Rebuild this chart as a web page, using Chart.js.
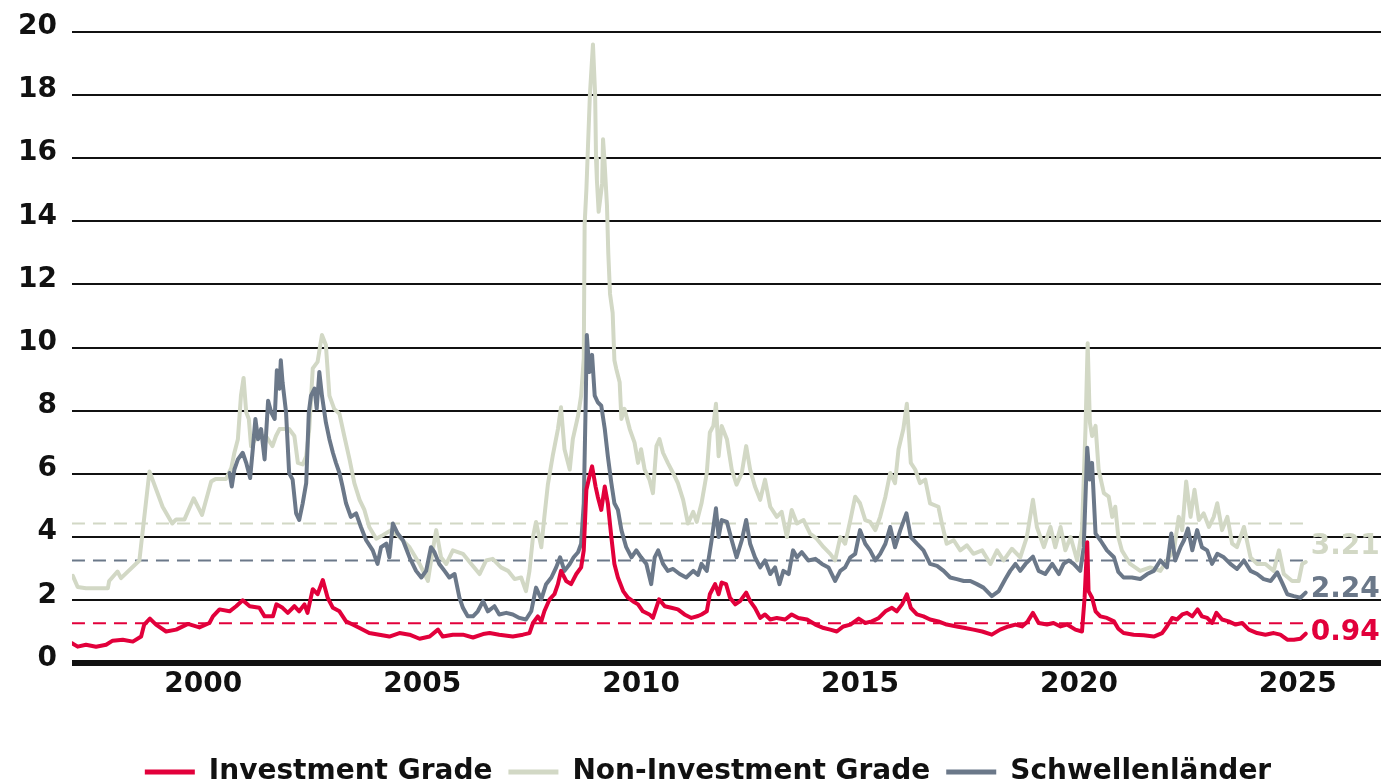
<!DOCTYPE html>
<html lang="de">
<head>
<meta charset="utf-8">
<title>Risikoaufschläge</title>
<script src="https://cdn.jsdelivr.net/npm/chart.js@4.4.1/dist/chart.umd.min.js"></script>
<style>
    html, body { margin: 0; padding: 0; background: #fff; overflow: hidden; }
    .chart-wrap { position: relative; width: 1381px; height: 796px; }
</style>
</head>
<body>
<div class="chart-wrap"><canvas id="spreadChart"></canvas></div>
<script>
/* ============================================
   Spreads — IG, High Yield, Schwellenländer
   ============================================ */

const seriesNames = ['Investment Grade', 'Non-Investment Grade', 'Schwellenländer'];
const xTicks = [2000, 2005, 2010, 2015, 2020, 2025];
const yTicks = [0, 2, 4, 6, 8, 10, 12, 14, 16, 18, 20];

// [year, spread in %]
const igSeries = [
    [1997.00, 0.64], [1997.13, 0.53], [1997.32, 0.59], [1997.55, 0.53], [1997.78, 0.59], [1997.93, 0.72],
    [1998.16, 0.75], [1998.39, 0.69], [1998.58, 0.85], [1998.65, 1.23], [1998.78, 1.42], [1998.92, 1.23],
    [1999.15, 1.01], [1999.38, 1.07], [1999.65, 1.25], [1999.91, 1.14], [2000.14, 1.28], [2000.22, 1.49],
    [2000.37, 1.71], [2000.60, 1.65], [2000.75, 1.81], [2000.90, 2.00], [2001.06, 1.81], [2001.28, 1.76],
    [2001.40, 1.49], [2001.59, 1.49], [2001.67, 1.87], [2001.81, 1.76], [2001.93, 1.60], [2002.08, 1.81],
    [2002.19, 1.65], [2002.31, 1.87], [2002.38, 1.60], [2002.50, 2.35], [2002.61, 2.19], [2002.73, 2.64],
    [2002.84, 2.08], [2002.96, 1.76], [2003.11, 1.65], [2003.26, 1.33], [2003.41, 1.23], [2003.57, 1.12],
    [2003.79, 0.96], [2004.02, 0.91], [2004.25, 0.85], [2004.48, 0.96], [2004.71, 0.91], [2004.94, 0.78],
    [2005.17, 0.85], [2005.36, 1.07], [2005.47, 0.85], [2005.70, 0.91], [2005.93, 0.91], [2006.16, 0.82],
    [2006.39, 0.93], [2006.54, 0.96], [2006.76, 0.91], [2007.07, 0.85], [2007.30, 0.91], [2007.45, 0.96],
    [2007.53, 1.28], [2007.64, 1.49], [2007.72, 1.33], [2007.79, 1.65], [2007.91, 2.03], [2008.02, 2.19],
    [2008.10, 2.51], [2008.17, 2.93], [2008.29, 2.61], [2008.40, 2.51], [2008.52, 2.83], [2008.63, 3.04],
    [2008.69, 3.58], [2008.75, 5.50], [2008.82, 5.92], [2008.88, 6.24], [2008.96, 5.60], [2009.01, 5.28],
    [2009.09, 4.86], [2009.17, 5.60], [2009.24, 5.07], [2009.32, 4.00], [2009.39, 3.15], [2009.47, 2.72],
    [2009.59, 2.29], [2009.70, 2.08], [2009.81, 1.97], [2009.93, 1.87], [2010.04, 1.65], [2010.19, 1.55],
    [2010.27, 1.44], [2010.41, 2.03], [2010.54, 1.81], [2010.69, 1.76], [2010.84, 1.71], [2010.99, 1.55],
    [2011.15, 1.44], [2011.30, 1.50], [2011.38, 1.55], [2011.50, 1.65], [2011.57, 2.19], [2011.69, 2.51],
    [2011.77, 2.19], [2011.84, 2.56], [2011.94, 2.51], [2012.03, 2.08], [2012.15, 1.87], [2012.26, 1.97],
    [2012.40, 2.24], [2012.49, 1.97], [2012.60, 1.76], [2012.72, 1.44], [2012.83, 1.55], [2012.95, 1.39],
    [2013.10, 1.44], [2013.29, 1.39], [2013.44, 1.55], [2013.59, 1.44], [2013.79, 1.39], [2013.98, 1.23],
    [2014.17, 1.12], [2014.32, 1.07], [2014.47, 1.01], [2014.62, 1.17], [2014.78, 1.23], [2014.97, 1.42],
    [2015.12, 1.28], [2015.27, 1.33], [2015.43, 1.44], [2015.58, 1.65], [2015.73, 1.76], [2015.84, 1.65],
    [2015.96, 1.87], [2016.07, 2.19], [2016.16, 1.76], [2016.30, 1.55], [2016.45, 1.49], [2016.60, 1.39],
    [2016.79, 1.33], [2016.98, 1.23], [2017.21, 1.17], [2017.40, 1.12], [2017.59, 1.07], [2017.79, 1.01],
    [2018.01, 0.91], [2018.20, 1.07], [2018.39, 1.17], [2018.55, 1.23], [2018.70, 1.17], [2018.83, 1.33],
    [2018.95, 1.60], [2019.08, 1.28], [2019.27, 1.23], [2019.42, 1.28], [2019.58, 1.17], [2019.73, 1.23],
    [2019.92, 1.07], [2020.07, 1.01], [2020.13, 2.08], [2020.19, 3.84], [2020.22, 2.29], [2020.30, 2.08],
    [2020.38, 1.65], [2020.49, 1.49], [2020.64, 1.44], [2020.80, 1.33], [2020.90, 1.10], [2021.02, 0.96],
    [2021.25, 0.91], [2021.48, 0.89], [2021.71, 0.85], [2021.90, 0.96], [2022.01, 1.17], [2022.13, 1.44],
    [2022.24, 1.39], [2022.36, 1.55], [2022.47, 1.60], [2022.59, 1.49], [2022.71, 1.71], [2022.81, 1.49],
    [2022.93, 1.44], [2023.04, 1.28], [2023.14, 1.60], [2023.27, 1.39], [2023.42, 1.33], [2023.58, 1.23],
    [2023.73, 1.28], [2023.88, 1.07], [2024.07, 0.96], [2024.26, 0.91], [2024.45, 0.96], [2024.60, 0.91],
    [2024.76, 0.75], [2024.91, 0.75], [2025.06, 0.78], [2025.18, 0.94]
];

const hySeries = [
    [1997.02, 2.77], [1997.13, 2.42], [1997.32, 2.38], [1997.82, 2.38], [1997.85, 2.61], [1998.04, 2.91],
    [1998.12, 2.70], [1998.54, 3.26], [1998.77, 6.08], [1999.07, 4.96], [1999.29, 4.43], [1999.38, 4.56],
    [1999.57, 4.56], [1999.78, 5.23], [1999.97, 4.70], [2000.18, 5.76], [2000.28, 5.84], [2000.52, 5.84],
    [2000.64, 6.19], [2000.71, 6.67], [2000.79, 7.10], [2000.86, 8.48], [2000.92, 9.04], [2000.98, 7.95],
    [2001.04, 7.74], [2001.09, 6.88], [2001.24, 7.20], [2001.43, 7.20], [2001.58, 6.88], [2001.66, 7.20],
    [2001.74, 7.42], [2001.96, 7.42], [2002.08, 7.20], [2002.16, 6.35], [2002.27, 6.30], [2002.35, 6.56],
    [2002.42, 7.42], [2002.50, 9.34], [2002.61, 9.55], [2002.71, 10.40], [2002.80, 10.08], [2002.88, 8.48],
    [2002.99, 8.06], [2003.11, 7.90], [2003.22, 7.20], [2003.34, 6.46], [2003.45, 5.71], [2003.57, 5.18],
    [2003.68, 4.86], [2003.79, 4.32], [2003.95, 3.95], [2004.10, 4.06], [2004.29, 4.22], [2004.48, 4.00],
    [2004.71, 3.68], [2004.94, 3.15], [2005.13, 2.61], [2005.24, 3.58], [2005.32, 4.22], [2005.43, 3.36],
    [2005.55, 3.15], [2005.70, 3.58], [2005.93, 3.47], [2006.12, 3.15], [2006.31, 2.83], [2006.46, 3.26],
    [2006.61, 3.31], [2006.80, 3.04], [2006.96, 2.93], [2007.11, 2.67], [2007.26, 2.72], [2007.37, 2.29],
    [2007.45, 2.93], [2007.53, 4.00], [2007.60, 4.48], [2007.72, 3.68], [2007.79, 4.64], [2007.87, 5.66],
    [2007.98, 6.56], [2008.10, 7.42], [2008.17, 8.11], [2008.25, 6.78], [2008.37, 6.14], [2008.44, 7.10],
    [2008.56, 7.84], [2008.63, 8.48], [2008.69, 9.66], [2008.71, 13.90], [2008.75, 15.00], [2008.83, 18.00],
    [2008.90, 19.60], [2008.95, 18.00], [2008.97, 16.00], [2008.99, 15.30], [2009.03, 14.30], [2009.11, 15.20],
    [2009.13, 16.60], [2009.16, 16.00], [2009.22, 14.50], [2009.25, 13.00], [2009.29, 11.70], [2009.35, 11.10],
    [2009.39, 9.60], [2009.43, 9.34], [2009.51, 8.90], [2009.55, 7.74], [2009.62, 8.06], [2009.74, 7.42],
    [2009.85, 6.99], [2009.93, 6.35], [2010.00, 6.78], [2010.08, 6.14], [2010.19, 5.82], [2010.27, 5.39],
    [2010.35, 6.88], [2010.42, 7.10], [2010.50, 6.67], [2010.61, 6.35], [2010.73, 6.03], [2010.84, 5.71],
    [2010.96, 5.18], [2011.07, 4.43], [2011.19, 4.80], [2011.27, 4.48], [2011.38, 5.07], [2011.50, 6.03],
    [2011.57, 7.31], [2011.65, 7.52], [2011.71, 8.22], [2011.77, 6.56], [2011.84, 7.52], [2011.96, 7.10],
    [2012.07, 6.14], [2012.18, 5.66], [2012.30, 6.03], [2012.40, 6.88], [2012.49, 6.14], [2012.60, 5.60],
    [2012.72, 5.18], [2012.83, 5.82], [2012.95, 4.96], [2013.10, 4.64], [2013.21, 4.80], [2013.33, 4.00],
    [2013.44, 4.86], [2013.56, 4.43], [2013.71, 4.54], [2013.86, 4.11], [2014.01, 3.95], [2014.17, 3.68],
    [2014.32, 3.47], [2014.43, 3.26], [2014.55, 4.00], [2014.66, 3.79], [2014.78, 4.54], [2014.89, 5.28],
    [2015.00, 5.07], [2015.12, 4.54], [2015.23, 4.48], [2015.35, 4.22], [2015.46, 4.64], [2015.58, 5.28],
    [2015.69, 6.03], [2015.80, 5.71], [2015.88, 6.78], [2015.99, 7.42], [2016.07, 8.22], [2016.16, 6.35],
    [2016.26, 6.14], [2016.37, 5.71], [2016.49, 5.82], [2016.60, 5.07], [2016.79, 4.96], [2016.87, 4.43],
    [2016.98, 3.79], [2017.14, 3.90], [2017.29, 3.58], [2017.44, 3.74], [2017.59, 3.47], [2017.79, 3.58],
    [2017.98, 3.15], [2018.13, 3.58], [2018.28, 3.26], [2018.47, 3.63], [2018.66, 3.36], [2018.81, 4.00],
    [2018.95, 5.18], [2019.04, 4.32], [2019.20, 3.68], [2019.35, 4.32], [2019.46, 3.68], [2019.58, 4.32],
    [2019.69, 3.58], [2019.81, 4.00], [2019.96, 3.26], [2020.07, 4.22], [2020.15, 7.42], [2020.20, 10.14],
    [2020.25, 7.63], [2020.30, 7.20], [2020.38, 7.52], [2020.45, 6.14], [2020.57, 5.39], [2020.68, 5.28],
    [2020.76, 4.64], [2020.83, 4.96], [2020.90, 4.00], [2020.98, 3.58], [2021.17, 3.15], [2021.40, 2.93],
    [2021.63, 3.04], [2021.86, 2.93], [2022.01, 3.26], [2022.17, 3.58], [2022.28, 4.64], [2022.36, 4.22],
    [2022.45, 5.76], [2022.55, 4.64], [2022.64, 5.50], [2022.74, 4.54], [2022.85, 4.75], [2022.97, 4.32],
    [2023.08, 4.64], [2023.16, 5.07], [2023.27, 4.22], [2023.39, 4.64], [2023.50, 3.79], [2023.61, 3.68],
    [2023.77, 4.32], [2023.92, 3.36], [2024.07, 3.15], [2024.26, 3.15], [2024.45, 2.93], [2024.57, 3.58],
    [2024.68, 2.83], [2024.87, 2.61], [2025.02, 2.61], [2025.10, 3.15], [2025.18, 3.21]
];

const emSeries = [
    [2000.60, 6.03], [2000.65, 5.60], [2000.71, 6.14], [2000.79, 6.46], [2000.90, 6.67], [2000.98, 6.35],
    [2001.07, 5.87], [2001.13, 6.78], [2001.19, 7.74], [2001.25, 7.10], [2001.32, 7.42], [2001.40, 6.46],
    [2001.48, 8.32], [2001.55, 7.95], [2001.63, 7.74], [2001.68, 9.28], [2001.74, 8.70], [2001.77, 9.60],
    [2001.81, 8.90], [2001.89, 7.95], [2001.96, 6.03], [2002.04, 5.82], [2002.12, 4.75], [2002.19, 4.54],
    [2002.27, 5.07], [2002.35, 5.71], [2002.41, 7.95], [2002.46, 8.48], [2002.54, 8.70], [2002.59, 8.06],
    [2002.65, 9.23], [2002.71, 8.48], [2002.80, 7.63], [2002.88, 7.10], [2002.96, 6.67], [2003.03, 6.35],
    [2003.11, 6.03], [2003.18, 5.60], [2003.26, 5.07], [2003.37, 4.64], [2003.49, 4.75], [2003.60, 4.32],
    [2003.72, 3.90], [2003.87, 3.58], [2003.98, 3.15], [2004.06, 3.68], [2004.18, 3.79], [2004.25, 3.36],
    [2004.33, 4.43], [2004.44, 4.11], [2004.56, 3.90], [2004.71, 3.36], [2004.86, 2.93], [2004.98, 2.72],
    [2005.09, 2.93], [2005.20, 3.68], [2005.28, 3.52], [2005.39, 3.15], [2005.51, 2.93], [2005.62, 2.72],
    [2005.74, 2.83], [2005.85, 2.08], [2005.93, 1.76], [2006.04, 1.49], [2006.16, 1.49], [2006.27, 1.65],
    [2006.39, 1.97], [2006.50, 1.65], [2006.65, 1.81], [2006.76, 1.55], [2006.92, 1.60], [2007.07, 1.55],
    [2007.22, 1.44], [2007.37, 1.39], [2007.49, 1.65], [2007.60, 2.40], [2007.72, 2.03], [2007.83, 2.51],
    [2007.95, 2.72], [2008.06, 3.04], [2008.15, 3.36], [2008.25, 2.93], [2008.37, 3.15], [2008.46, 3.36],
    [2008.56, 3.52], [2008.63, 3.79], [2008.69, 5.07], [2008.73, 7.95], [2008.76, 10.40], [2008.82, 9.23],
    [2008.88, 9.77], [2008.94, 8.48], [2009.01, 8.27], [2009.09, 8.16], [2009.17, 7.42], [2009.24, 6.56],
    [2009.32, 5.71], [2009.39, 5.07], [2009.47, 4.86], [2009.55, 4.22], [2009.66, 3.68], [2009.78, 3.36],
    [2009.89, 3.58], [2010.00, 3.36], [2010.12, 3.15], [2010.23, 2.51], [2010.31, 3.36], [2010.39, 3.58],
    [2010.50, 3.15], [2010.61, 2.93], [2010.73, 2.99], [2010.88, 2.83], [2011.03, 2.72], [2011.19, 2.93],
    [2011.30, 2.80], [2011.38, 3.15], [2011.50, 2.93], [2011.61, 3.90], [2011.71, 4.91], [2011.77, 4.00],
    [2011.84, 4.54], [2011.96, 4.48], [2012.07, 3.90], [2012.18, 3.36], [2012.30, 3.90], [2012.40, 4.54],
    [2012.49, 3.79], [2012.60, 3.36], [2012.72, 3.04], [2012.83, 3.26], [2012.95, 2.83], [2013.06, 3.04],
    [2013.16, 2.51], [2013.25, 2.93], [2013.37, 2.83], [2013.47, 3.58], [2013.56, 3.36], [2013.67, 3.52],
    [2013.82, 3.26], [2013.98, 3.31], [2014.13, 3.15], [2014.28, 3.04], [2014.43, 2.61], [2014.55, 2.93],
    [2014.66, 3.04], [2014.78, 3.36], [2014.89, 3.47], [2015.00, 4.22], [2015.12, 3.79], [2015.23, 3.58],
    [2015.35, 3.26], [2015.46, 3.47], [2015.58, 3.79], [2015.69, 4.32], [2015.80, 3.68], [2015.92, 4.22],
    [2016.06, 4.75], [2016.16, 4.00], [2016.30, 3.79], [2016.45, 3.58], [2016.60, 3.15], [2016.76, 3.09],
    [2016.91, 2.93], [2017.06, 2.72], [2017.21, 2.67], [2017.37, 2.61], [2017.52, 2.61], [2017.67, 2.51],
    [2017.82, 2.40], [2018.01, 2.13], [2018.17, 2.29], [2018.32, 2.67], [2018.43, 2.93], [2018.55, 3.15],
    [2018.66, 2.93], [2018.78, 3.15], [2018.95, 3.38], [2019.08, 2.93], [2019.23, 2.83], [2019.39, 3.15],
    [2019.54, 2.83], [2019.65, 3.15], [2019.77, 3.26], [2019.88, 3.15], [2020.03, 2.93], [2020.11, 3.68],
    [2020.19, 6.83], [2020.25, 5.82], [2020.30, 6.35], [2020.38, 4.11], [2020.49, 3.90], [2020.64, 3.58],
    [2020.80, 3.36], [2020.90, 2.90], [2021.02, 2.72], [2021.21, 2.72], [2021.40, 2.67], [2021.56, 2.83],
    [2021.71, 2.93], [2021.86, 3.26], [2022.01, 3.04], [2022.11, 4.11], [2022.20, 3.26], [2022.32, 3.68],
    [2022.40, 3.90], [2022.49, 4.27], [2022.59, 3.58], [2022.70, 4.22], [2022.81, 3.68], [2022.93, 3.58],
    [2023.04, 3.15], [2023.16, 3.47], [2023.31, 3.36], [2023.46, 3.15], [2023.61, 2.99], [2023.77, 3.26],
    [2023.92, 2.93], [2024.07, 2.83], [2024.22, 2.67], [2024.38, 2.61], [2024.53, 2.88], [2024.64, 2.56],
    [2024.76, 2.19], [2024.91, 2.13], [2025.06, 2.08], [2025.18, 2.24]
];

// long-run averages, drawn dashed over the whole period: IG, HY, EM
const avgLevels = [1.27, 4.43, 3.26];
const avgPeriod = [1997.00, 2025.18];

const COLORS = ['#e2003b', '#d2d8c5', '#6b7889'];
const FONT = "'DejaVu Sans', 'Liberation Sans', sans-serif";

const toPoints = rows => rows.map(([x, y]) => ({ x, y }));

const lineDataset = (label, rows, color, order) => ({
    label, data: toPoints(rows), borderColor: color, backgroundColor: color,
    borderWidth: 4, pointRadius: 0, tension: 0, order,
    borderJoinStyle: 'round', borderCapStyle: 'round', endLabel: true
});

const avgDataset = (level, color) => ({
    label: '', data: avgPeriod.map(x => ({ x, y: level })), borderColor: color,
    borderWidth: 2, borderDash: [13, 8], pointRadius: 0, order: 5, isAverage: true
});

// value labels at the right end of each series, pushed apart when they collide
const endLabels = {
    id: 'endLabels',
    afterDatasetsDraw(chart) {
        const { ctx } = chart;
        const items = chart.data.datasets
            .map((ds, i) => ({ ds, meta: chart.getDatasetMeta(i) }))
            .filter(o => o.ds.endLabel)
            .map(o => {
                const last = o.meta.data[o.meta.data.length - 1];
                const value = o.ds.data[o.ds.data.length - 1].y;
                return { x: last.x, y: last.y, text: value.toFixed(2), color: o.ds.borderColor };
            })
            .sort((a, b) => b.y - a.y);

        ctx.save();
        ctx.font = `bold 28px ${FONT}`;
        ctx.textAlign = 'left';
        ctx.textBaseline = 'middle';
        let prev = Infinity;
        items.forEach(it => {
            let cy = it.y - 1;
            if (cy > prev - 43) cy = prev - 43;
            ctx.fillStyle = it.color;
            ctx.fillText(it.text, it.x + 5, cy);
            prev = cy;
        });
        ctx.restore();
    }
};

// nudge the legend row a little to the right of the canvas centre
const legendShift = {
    id: 'legendShift',
    afterLayout(chart) {
        chart.legend.left += 16;
        chart.legend.right += 16;
    }
};

new Chart(document.getElementById('spreadChart'), {
    type: 'line',
    data: {
        datasets: [
            lineDataset(seriesNames[0], igSeries, COLORS[0], 0),
            lineDataset(seriesNames[1], hySeries, COLORS[1], 2),
            lineDataset(seriesNames[2], emSeries, COLORS[2], 1),
            avgDataset(avgLevels[0], COLORS[0]),
            avgDataset(avgLevels[1], COLORS[1]),
            avgDataset(avgLevels[2], COLORS[2])
        ]
    },
    options: {
        responsive: true, maintainAspectRatio: false, animation: false,
        layout: { padding: { top: 24, left: 3, right: 0, bottom: 0 } },
        plugins: {
            tooltip: { enabled: false },
            legend: {
                position: 'bottom',
                labels: {
                    color: '#111', font: { family: FONT, size: 28, weight: 'bold' },
                    boxWidth: 50, boxHeight: 5, padding: 16,
                    generateLabels(chart) {
                        return Chart.defaults.plugins.legend.labels.generateLabels(chart)
                            .filter(l => !chart.data.datasets[l.datasetIndex].isAverage)
                            .sort((a, b) => a.datasetIndex - b.datasetIndex)
                            .map(l => Object.assign(l, { fillStyle: l.strokeStyle, lineWidth: 0, lineDash: [] }));
                    }
                }
            }
        },
        scales: {
            x: {
                type: 'linear', min: 1997, max: 2026.9,
                afterBuildTicks: axis => { axis.ticks = xTicks.map(value => ({ value })); },
                ticks: {
                    color: '#111', font: { family: FONT, size: 28, weight: 'bold' },
                    padding: 5, maxRotation: 0, autoSkip: false, callback: v => String(v)
                },
                grid: { display: false, drawTicks: false },
                border: { display: false },
                title: { display: true, text: ' ', font: { size: 10 }, padding: { top: 0, bottom: 23 } }
            },
            y: {
                min: 0, max: 20,
                afterBuildTicks: axis => { axis.ticks = yTicks.map(value => ({ value })); },
                ticks: {
                    color: '#111', font: { family: FONT, size: 28, weight: 'bold' },
                    padding: 15, labelOffset: -5
                },
                grid: {
                    color: '#111', drawTicks: false,
                    lineWidth: c => (c.tick && c.tick.value === 0 ? 6 : 2)
                },
                border: { display: false }
            }
        }
    },
    plugins: [endLabels, legendShift]
});
</script>
</body>
</html>
